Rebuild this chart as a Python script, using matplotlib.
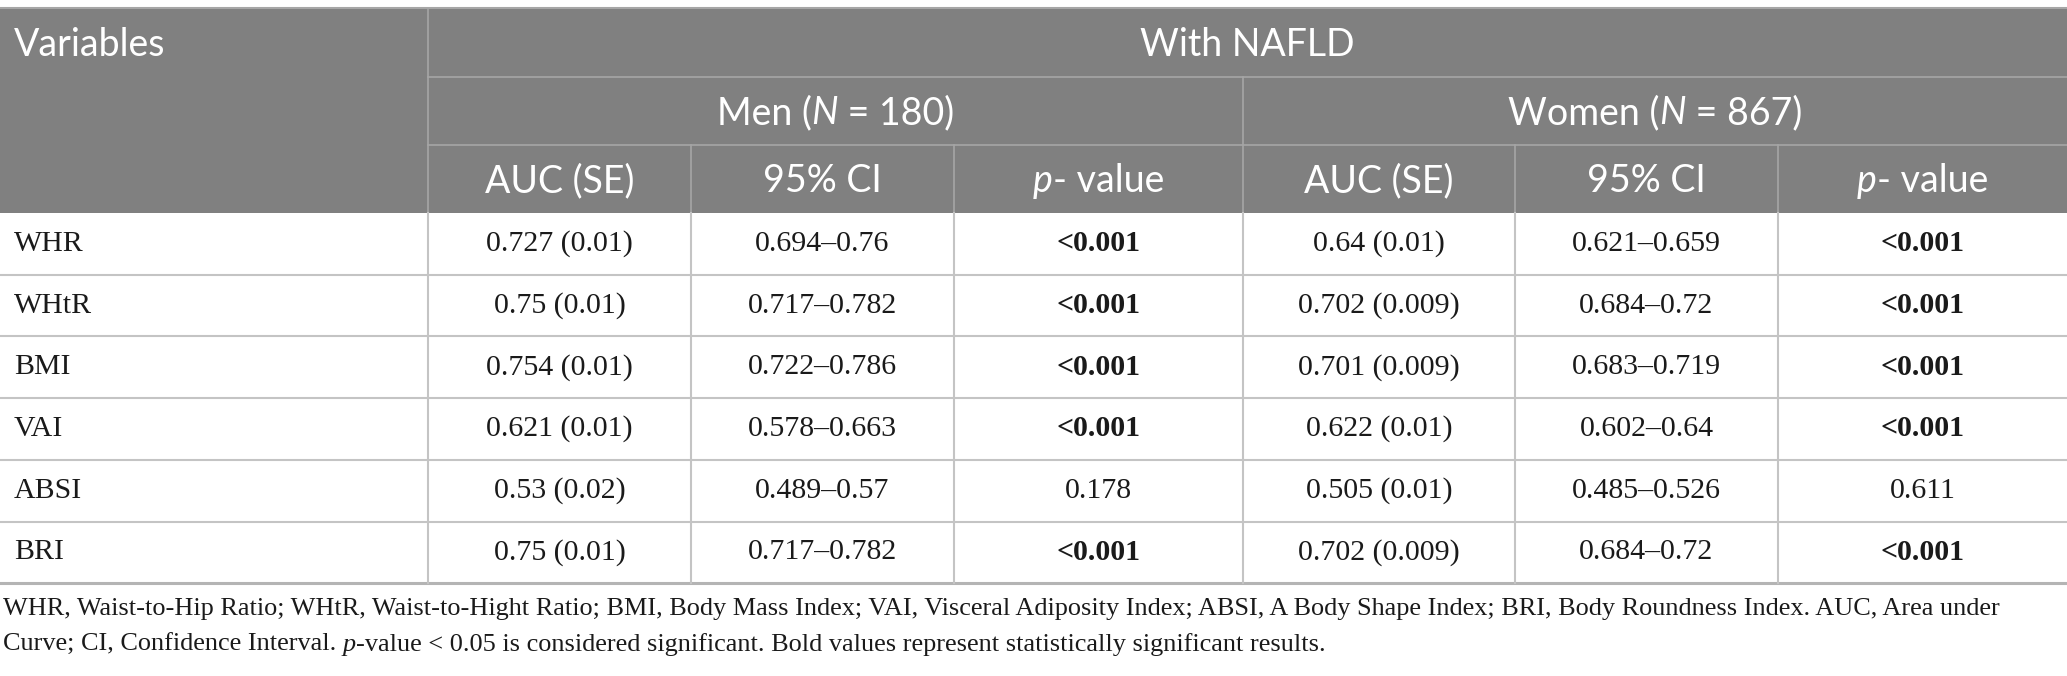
import matplotlib
matplotlib.use("Agg")
import matplotlib.pyplot as plt
from matplotlib.patches import Rectangle

# table content
variables = ["WHR", "WHtR", "BMI", "VAI", "ABSI", "BRI"]
men_auc = ["0.727 (0.01)", "0.75 (0.01)", "0.754 (0.01)", "0.621 (0.01)", "0.53 (0.02)", "0.75 (0.01)"]
men_ci = ["0.694\u20130.76", "0.717\u20130.782", "0.722\u20130.786", "0.578\u20130.663", "0.489\u20130.57", "0.717\u20130.782"]
men_p = ["<0.001", "<0.001", "<0.001", "<0.001", "0.178", "<0.001"]
women_auc = ["0.64 (0.01)", "0.702 (0.009)", "0.701 (0.009)", "0.622 (0.01)", "0.505 (0.01)", "0.702 (0.009)"]
women_ci = ["0.621\u20130.659", "0.684\u20130.72", "0.683\u20130.719", "0.602\u20130.64", "0.485\u20130.526", "0.684\u20130.72"]
women_p = ["<0.001", "<0.001", "<0.001", "<0.001", "0.611", "<0.001"]

group_title = "With NAFLD"
men_title = [("Men (", "n"), ("N", "i"), (" = 180)", "n")]
women_title = [("Women (", "n"), ("N", "i"), (" = 867)", "n")]
sub_heads = [[("AUC (SE)", "n")], [("95% CI", "n")], [("p", "i"), ("- value", "n")]]

foot1 = ("WHR, Waist-to-Hip Ratio; WHtR, Waist-to-Hight Ratio; BMI, Body Mass Index; VAI, Visceral Adiposity Index; "
         "ABSI, A Body Shape Index; BRI, Body Roundness Index. AUC, Area under")
foot2 = [("Curve; CI, Confidence Interval. ", "n"), ("p", "i"),
         ("-value < 0.05 is considered significant. Bold values represent statistically significant results.", "n")]

W, H = 2067, 676
col_x = [0, 428, 691, 954, 1243, 1515, 1778, 2067]
head_y = [8, 77, 145, 213]
row_h = 61.7
body_top = head_y[-1]
n_rows = len(variables)
body_bot = body_top + row_h * n_rows

HEAD_BG = "#808080"
HEAD_LINE = "#a6a6a6"
GRID = "#c4c4c4"
SANS = "Lato"
SERIF = "Liberation Serif"
HEAD_SIZE = 27
BODY_SIZE = 21.5
FOOT_SIZE = 18.9

fig = plt.figure(figsize=(W / 100, H / 100), dpi=100)
ax = fig.add_axes([0, 0, 1, 1])
ax.set_xlim(0, W)
ax.set_ylim(H, 0)
ax.axis("off")
renderer = fig.canvas.get_renderer()


def runs(x, y, parts, family, size, color, ha="center", weight="normal"):
    # draw text made of normal/italic pieces side by side
    objs = []
    widths = []
    for s, st in parts:
        t = ax.text(0, y, s, family=family, fontsize=size, color=color,
                    style="italic" if st == "i" else "normal", weight=weight,
                    ha="left", va="center")
        bb = t.get_window_extent(renderer=renderer)
        objs.append(t)
        widths.append(bb.width)
    total = sum(widths)
    start = x - total / 2 if ha == "center" else x
    for t, w in zip(objs, widths):
        t.set_x(start)
        start += w


# header background
ax.add_patch(Rectangle((0, head_y[0]), W, head_y[-1] - head_y[0], color=HEAD_BG, lw=0))
ax.plot([0, W], [head_y[0], head_y[0]], color=HEAD_LINE, lw=1.5)
for y in head_y[1:3]:
    ax.plot([col_x[1], W], [y, y], color=HEAD_LINE, lw=1.2)
ax.plot([col_x[1], col_x[1]], [head_y[0], head_y[-1]], color=HEAD_LINE, lw=1.2)
ax.plot([col_x[4], col_x[4]], [head_y[1], head_y[-1]], color=HEAD_LINE, lw=1.2)
for c in [2, 3, 5, 6]:
    ax.plot([col_x[c], col_x[c]], [head_y[2], head_y[-1]], color=HEAD_LINE, lw=1.2)

def mid(a, b):
    return (a + b) / 2

ax.text(14, mid(head_y[0], head_y[1]) + 2, "Variables", family=SANS, fontsize=HEAD_SIZE,
        color="white", ha="left", va="center")
ax.text(mid(col_x[1], col_x[-1]), mid(head_y[0], head_y[1]) + 2, group_title, family=SANS,
        fontsize=HEAD_SIZE, color="white", ha="center", va="center")
runs(mid(col_x[1], col_x[4]), mid(head_y[1], head_y[2]) + 2, men_title, SANS, HEAD_SIZE, "white")
runs(mid(col_x[4], col_x[7]), mid(head_y[1], head_y[2]) + 2, women_title, SANS, HEAD_SIZE, "white")
for k in range(6):
    runs(mid(col_x[k + 1], col_x[k + 2]), mid(head_y[2], head_y[3]) + 2, sub_heads[k % 3],
         SANS, HEAD_SIZE, "white")

# body grid
for i in range(1, n_rows):
    y = body_top + row_h * i
    ax.plot([0, W], [y, y], color=GRID, lw=1.5)
ax.plot([0, W], [body_bot, body_bot], color="#b4b4b4", lw=2.2)
for c in range(1, 7):
    ax.plot([col_x[c], col_x[c]], [body_top, body_bot], color=GRID, lw=1.5)

# body text
columns = [men_auc, men_ci, men_p, women_auc, women_ci, women_p]
for i, var in enumerate(variables):
    yc = body_top + row_h * (i + 0.5)
    ax.text(14, yc, var, family=SERIF, fontsize=BODY_SIZE, color="#1a1a1a", ha="left", va="center")
    for k, col in enumerate(columns):
        val = col[i]
        bold = val.startswith("<")
        ax.text(mid(col_x[k + 1], col_x[k + 2]), yc, val, family=SERIF, fontsize=BODY_SIZE,
                color="#1a1a1a", ha="center", va="center",
                weight="bold" if bold else "normal")

# footnote
ax.text(3, 609, foot1, family=SERIF, fontsize=FOOT_SIZE, color="#1a1a1a", ha="left", va="center")
runs(3, 645, foot2, SERIF, FOOT_SIZE, "#1a1a1a", ha="left")

fig.savefig("out.png", dpi=100)
